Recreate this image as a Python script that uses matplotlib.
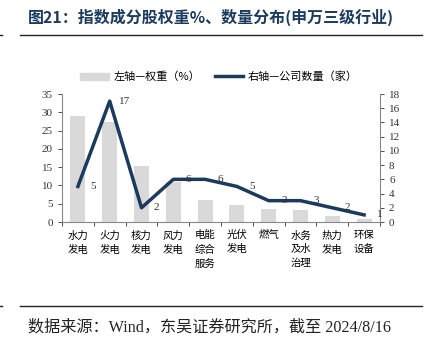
import numpy as np
import matplotlib.pyplot as plt
from matplotlib.patches import Patch
from matplotlib.lines import Line2D

plt.rcParams['font.family'] = ['Liberation Serif', 'Noto Sans CJK SC', 'DejaVu Sans']

cats = ['水力\n发电', '火力\n发电', '核力\n发电', '风力\n发电', '电能\n综合\n服务',
        '光伏\n发电', '燃气', '水务\n及水\n治理', '热力\n发电', '环保\n设备']
weight = [29.0, 27.3, 15.4, 10.9, 6.1, 4.7, 3.6, 3.3, 1.7, 0.9]
count = [5, 17, 2, 6, 6, 5, 3, 3, 2, 1]

navy = '#1b3a5e'
fig = plt.figure(figsize=(4.3, 3.53), dpi=100)
ax = fig.add_axes([62/430, 1-222/353, 318/430, 128/353])
x = np.arange(len(cats))
ax.bar(x, weight, width=0.47, color='#d9d9d9', zorder=1)
ax.set_xlim(-0.5, len(cats)-0.5)
ax.set_ylim(0, 35)
ax.set_yticks(range(0, 36, 5))

ax2 = ax.twinx()
ax2.plot(x, count, color=navy, lw=2.5, zorder=3)
ax2.set_ylim(0, 18)
ax2.set_yticks(range(0, 19, 2))
for xi, c in zip(x, count):
    ax2.annotate(str(c), (xi, c), xytext=(11, 0), textcoords='offset points',
                 ha='center', va='center', fontsize=8, color='#333333')

for a in (ax, ax2):
    a.spines['top'].set_visible(False)
    a.tick_params(labelsize=8, colors='#333333', length=3, width=0.6)
    for s in a.spines.values():
        s.set_color('#888888')
        s.set_linewidth(0.8)
ax.spines['right'].set_visible(False)
ax2.spines['left'].set_visible(False)
ax2.spines['bottom'].set_visible(False)

ax.set_xticks(np.arange(-0.5, len(cats), 1))
ax.set_xticklabels([])
ax.set_xticks(x, minor=True)
ax.set_xticklabels(cats, minor=True, fontsize=7.5, family=['Noto Sans CJK SC'],
                   linespacing=1.5, va='top')
ax.tick_params(axis='x', which='minor', length=0, pad=6)
ax.tick_params(axis='x', which='major', length=3, direction='out')

handles = [Patch(color='#d9d9d9', label='左轴—权重（%）'),
           Line2D([0], [0], color=navy, lw=2.5, label='右轴—公司数量（家）')]
fig.legend(handles=handles, loc='center', bbox_to_anchor=(219/430, 1-77/353), ncol=2,
           frameon=False, prop={'family': 'Noto Sans CJK SC', 'size': 8},
           handlelength=2.6, columnspacing=1.3, handletextpad=0.4)

fig.text(28/430, 1-17/353, '图21：指数成分股权重%、数量分布(申万三级行业)', fontsize=11.5,
         fontweight='bold', color=navy, va='center', family=['Noto Sans CJK SC'])
fig.add_artist(Line2D([20/430, 422/430], [1-35/353, 1-35/353], color='#222222', lw=1))
fig.add_artist(Line2D([20/430, 422/430], [1-306/353, 1-306/353], color='#222222', lw=1))
fig.add_artist(Line2D([0, 2/430], [1-35/353, 1-35/353], color='#222222', lw=1))
fig.add_artist(Line2D([0, 2/430], [1-306/353, 1-306/353], color='#222222', lw=1))
fig.text(28/430, 1-327/353, '数据来源：Wind，东吴证券研究所，截至 2024/8/16', fontsize=11.6,
         color='#222222', va='center')

fig.savefig('out.png', dpi=100)
